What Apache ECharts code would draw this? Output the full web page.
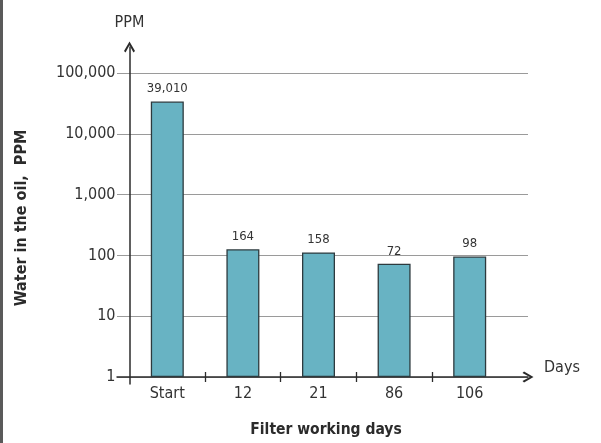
<!DOCTYPE html>
<html>
<head>
<meta charset="utf-8">
<script src="https://cdn.jsdelivr.net/npm/echarts@6/dist/echarts.min.js"></script>
<style>
html,body{margin:0;padding:0;background:#fff;}
#c{width:601px;height:443px;}
</style>
</head>
<body>
<div id="c"></div>
<script>
// ---- data ----
var categories = ['Start', '12', '21', '86', '106'];
var barValues = [34000, 126, 112, 73, 96];          // bar heights as drawn
var barLabels = ['39,010', '164', '158', '72', '98']; // printed value labels
var yTickLabels = {1: '1', 10: '10', 100: '100', 1000: '1,000', 10000: '10,000', 100000: '100,000'};
var xAxisTitle = 'Filter working days';
var yAxisTitle = 'Water in the oil,  PPM';
var yUnit = 'PPM';
var xUnit = 'Days';

var FONT = "'Liberation Sans Narrow', 'DejaVu Sans Condensed', 'Roboto', sans-serif";
var AX = '#2b2b2b';
var chevron = 'path://M5,0 L10,8.6 L8.6,10 L5,3.4 L1.4,10 L0,8.6 Z';

var yAxisX = 129.5, band = 75.6, gLeft = 117, gRight = 528;
var xMin = (gLeft - yAxisX) / band, xMax = (gRight - yAxisX) / band;

var chart = echarts.init(document.getElementById('c'));
chart.setOption({
  backgroundColor: '#ffffff',
  animation: false,
  grid: [
    {left: gLeft, right: 601 - gRight, top: 73, bottom: 66},           // 0: grid lines, x axis line
    {left: yAxisX, right: 601 - (yAxisX + band * 5), top: 73, bottom: 66}, // 1: bars
    {left: yAxisX, width: 1, top: 47, bottom: 59},                        // 2: y axis line
    {left: gLeft, right: 601 - gRight, top: 73, bottom: 66}            // 3: inner ticks
  ],
  xAxis: [
    {gridIndex: 0, type: 'value', min: xMin, max: xMax,
     axisLine: {show: true, lineStyle: {color: AX, width: 1.5}, symbol: ['none', chevron], symbolSize: [12, 11]},
     axisTick: {show: true, customValues: [1, 2, 3, 4], length: 5, lineStyle: {color: AX, width: 1.3}},
     axisLabel: {show: false}, splitLine: {show: false},
     name: xUnit, nameLocation: 'end', nameGap: 16,
     nameTextStyle: {fontFamily: FONT, fontSize: 16, color: '#333', verticalAlign: 'bottom', padding: [0, 0, 1, 0]}},
    {gridIndex: 3, type: 'value', min: xMin, max: xMax,
     axisLine: {show: false},
     axisTick: {show: true, inside: true, customValues: [1, 2, 3, 4], length: 5, lineStyle: {color: AX, width: 1.3}},
     axisLabel: {show: false}, splitLine: {show: false}},
    {gridIndex: 1, type: 'category', data: categories,
     axisLine: {show: false}, axisTick: {show: false},
     axisLabel: {fontFamily: FONT, fontSize: 16, color: '#333', margin: 9}},
    {gridIndex: 2, type: 'value', show: false}
  ],
  yAxis: [
    {gridIndex: 0, type: 'log', logBase: 10, min: 1, max: 100000, offset: -(yAxisX - gLeft),
     axisLine: {show: false}, axisTick: {show: false},
     axisLabel: {fontFamily: FONT, fontSize: 16, color: '#333', margin: 14,
                 formatter: function (v) { return yTickLabels[v] !== undefined ? yTickLabels[v] : ''; }},
     splitLine: {show: true, lineStyle: {color: '#9a9a9a', width: 1}}},
    {gridIndex: 1, type: 'log', logBase: 10, min: 1, max: 100000, show: false},
    {gridIndex: 2, type: 'value', min: 0, max: 1,
     axisLine: {show: true, lineStyle: {color: AX, width: 1.5}, symbol: ['none', chevron], symbolSize: [12, 11]},
     axisTick: {show: false}, axisLabel: {show: false}, splitLine: {show: false},
     name: yUnit, nameLocation: 'end', nameGap: 16,
     nameTextStyle: {fontFamily: FONT, fontSize: 16, color: '#333', align: 'center'}},
    {gridIndex: 3, type: 'value', show: false}
  ],
  series: [{
    type: 'bar', xAxisIndex: 2, yAxisIndex: 1,
    data: barValues,
    barWidth: 33,
    itemStyle: {color: '#68b3c3', borderColor: '#2d3a3e', borderWidth: 1.3},
    label: {show: true, position: 'top', distance: 6, fontFamily: FONT, fontSize: 13, color: '#333',
            formatter: function (p) { return barLabels[p.dataIndex]; }}
  }],
  graphic: [
    {type: 'rect', left: 0, top: 0, shape: {width: 3, height: 443}, style: {fill: '#5a5a5a'}},
    {type: 'text', x: 326, y: 430, style: {text: xAxisTitle, fontFamily: FONT, fontSize: 15.5, fontWeight: 'bold',
      fill: '#2b2b2b', align: 'center', verticalAlign: 'middle'}},
    {type: 'text', x: 22, y: 218, rotation: Math.PI / 2, style: {text: yAxisTitle, fontFamily: FONT, fontSize: 16,
      fontWeight: 'bold', fill: '#2b2b2b', align: 'center', verticalAlign: 'middle'}}
  ]
});
</script>
</body>
</html>
